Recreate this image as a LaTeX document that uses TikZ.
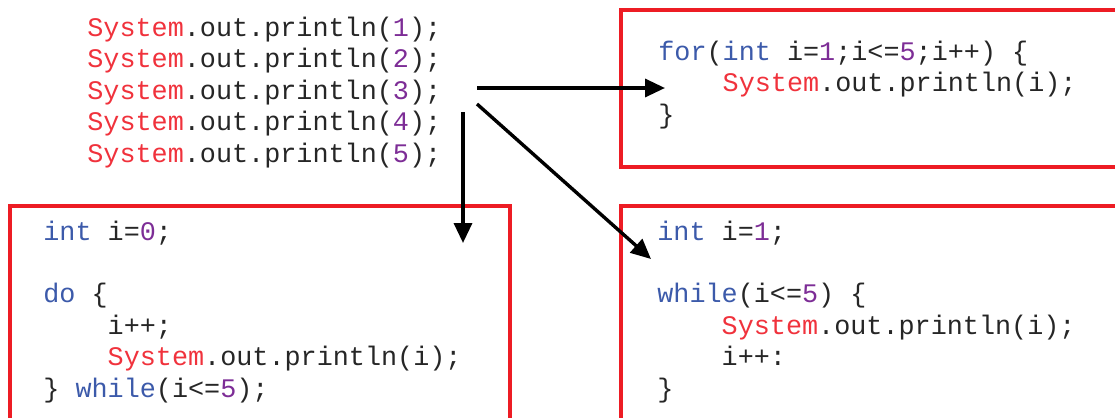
\documentclass[tikz,border=0pt]{standalone}
\usepackage{fontspec}
\setmonofont{Liberation Mono}
\usepackage{tikz}
\usetikzlibrary{arrows.meta, positioning}
\definecolor{boxred}{RGB}{237,28,36}
\definecolor{kwblue}{RGB}{60,90,170}
\definecolor{sysred}{RGB}{240,50,60}
\definecolor{numpurple}{RGB}{125,45,150}
\newcommand{\jkw}[1]{\textcolor{kwblue}{#1}}
\newcommand{\jsys}[1]{\textcolor{sysred}{#1}}
\newcommand{\jnum}[1]{\textcolor{numpurple}{#1}}
\newcommand{\jind}{\hspace*{2.4em}}
\tikzset{
    code/.style={font=\ttfamily\fontsize{13.4}{15.7}\selectfont, align=left, anchor=base west, inner sep=0pt, text=black!85},
    redbox/.style={draw=boxred, line width=2pt},
    flow/.style={-{Triangle[length=10pt, width=9pt]}, line width=1.7pt}
}

\begin{document}
\begin{tikzpicture}[x=0.5pt, y=-0.5pt]
            \useasboundingbox (0, 0) rectangle (1115, 418);
            \draw[redbox] (621, 10) rectangle (1130, 167);
            \draw[redbox] (10, 206) rectangle (510, 430);
            \draw[redbox] (621, 206) rectangle (1130, 430);
            \node[code] (seq) at (87, 162) {\jsys{System}.out.println(\jnum{1});\\ \jsys{System}.out.println(\jnum{2});\\ \jsys{System}.out.println(\jnum{3});\\ \jsys{System}.out.println(\jnum{4});\\ \jsys{System}.out.println(\jnum{5});};
            \node[code] (forloop) at (658, 123) {\jkw{for}(\jkw{int} i=\jnum{1};i<=\jnum{5};i++) \{\\ \jind\jsys{System}.out.println(i);\\ \}};
            \node[code] (doloop) at (43, 397) {\jkw{int} i=\jnum{0};\\ \mbox{}\\ \jkw{do} \{\\ \jind i++;\\ \jind\jsys{System}.out.println(i);\\ \} \jkw{while}(i<=\jnum{5});};
            \node[code] (whileloop) at (657, 397) {\jkw{int} i=\jnum{1};\\ \mbox{}\\ \jkw{while}(i<=\jnum{5}) \{\\ \jind\jsys{System}.out.println(i);\\ \jind i++:\\ \}};
            \coordinate (toFor) at (477, 88);
            \coordinate (toDo) at (463, 112);
            \coordinate (toWhile) at (477, 104);
            \coordinate (forEnd) at (665, 88);
            \coordinate (doEnd) at (463, 243);
            \coordinate (whileEnd) at (651, 259);
            \draw[flow] (toFor) -- (forEnd);
            \draw[flow] (toDo) -- (doEnd);
            \draw[flow] (toWhile) -- (whileEnd);
        \end{tikzpicture}
\end{document}
